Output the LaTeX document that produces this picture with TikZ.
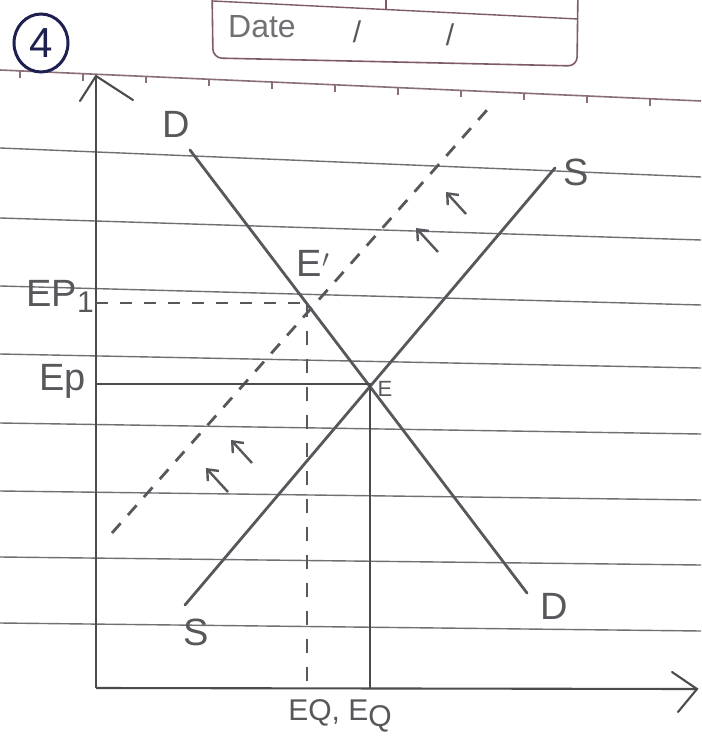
\documentclass[tikz,border=0pt]{standalone}
\usepackage{fontspec}
\setmainfont{Liberation Sans}
\usetikzlibrary{arrows.meta,shapes.geometric}
\definecolor{pencil}{HTML}{58585C}
\definecolor{rulegray}{HTML}{707074}
\definecolor{headerc}{HTML}{8A6E78}
\definecolor{boxc}{HTML}{7E5A6A}
\definecolor{navy}{HTML}{1E2050}
\begin{document}
\begin{tikzpicture}[x=1pt,y=-1pt,
  rule/.style={draw=rulegray, line width=1.4pt},
  pencil/.style={draw=pencil, line width=2.8pt, line cap=round},
  dashpencil/.style={draw=pencil, line width=2.8pt, dash pattern=on 13pt off 11pt},
  thinpencil/.style={draw=pencil!85!black, line width=2.1pt},
  lbl/.style={text=pencil, font=\fontsize{38}{38}\selectfont, inner sep=0pt},
  slbl/.style={text=pencil, font=\fontsize{22}{22}\selectfont, inner sep=0pt},
  shiftarrow/.style={draw=pencil, line width=2.4pt, -{Straight Barb[length=9pt,width=15pt]}}]
\useasboundingbox (0,0) rectangle (701,741);
\fill[white] (0,0) rectangle (701,741);
% ruled lines
\foreach \a/\b in {148/177, 218/240, 286/305, 354/368, 423/434, 491/500, 557/565, 623/631}
  \draw[rule] (0,\a) -- (701,\b);
% header line with ticks
\draw[draw=headerc, line width=1.6pt] (0,70) -- (701,101);
\foreach \t in {20,83,146,209,272,335,398,461,524,587,650}
  \draw[draw=headerc, line width=1.4pt] (\t,{70+\t/701*31}) -- ++(0,7);
% date box
\draw[boxc, line width=1.6pt, rounded corners=9pt] (212,-12) -- (213,58) -- (577,66) -- (578,-12);
\draw[boxc, line width=1.4pt] (213,1) -- (578,19);
\draw[boxc, line width=1.4pt] (386,-5) -- (386,10);
\node[text=pencil!85, font=\fontsize{32}{32}\selectfont, anchor=west, inner sep=0pt] (date) at (228,27) {Date};
\node[text=pencil, font=\fontsize{30}{30}\selectfont] (sl1) at (357,32) {/};
\node[text=pencil, font=\fontsize{30}{30}\selectfont] (sl2) at (450,35) {/};
% circled 4
\node[draw=navy, line width=3pt, ellipse, minimum width=54pt, minimum height=58pt, text=navy,
      font=\fontsize{42}{42}\selectfont, inner sep=0pt] (num) at (41,43) {4};
% points
\coordinate (O) at (96,688);
\coordinate (Ytip) at (96,76);
\coordinate (Xtip) at (697,689);
\coordinate (Dtop) at (190,150);
\coordinate (Dbot) at (527,593);
\coordinate (Stop) at (555,168);
\coordinate (Sbot) at (185,605);
\coordinate (S2top) at (487,110);
\coordinate (S2bot) at (112,533);
\coordinate (E) at (370,384);
\coordinate (E1) at (307,303);
\coordinate (EP) at (96,384);
\coordinate (EP1) at (96,303);
\coordinate (EQ) at (370,688);
\coordinate (EQ1) at (307,688);
% axes
\draw[thinpencil] (O) -- (Ytip);
\draw[thinpencil, line cap=round] (80,101) -- (Ytip) -- (133,100);
\draw[thinpencil] (O) -- (Xtip);
\draw[thinpencil, line cap=round] (672,672) -- (Xtip) -- (678,712);
% curves
\draw[pencil] (Dtop) -- (Dbot);
\draw[pencil] (Sbot) -- (Stop);
\draw[dashpencil] (S2bot) -- (S2top);
% equilibrium guides
\draw[thinpencil] (EP) -- (E) -- (EQ);
\draw[draw=pencil, line width=2.3pt, dash pattern=on 12pt off 12pt] (EP1) -- (E1);
\draw[draw=pencil, line width=2.3pt, dash pattern=on 14pt off 14pt] (E1) -- (EQ1);
% shift arrows
\coordinate (a1t) at (438,252); \coordinate (a1h) at (416,228);
\coordinate (a2t) at (466,214); \coordinate (a2h) at (446,192);
\coordinate (a3t) at (252,463); \coordinate (a3h) at (231,440);
\coordinate (a4t) at (228,492); \coordinate (a4h) at (206,468);
\draw[shiftarrow] (a1t) -- (a1h);
\draw[shiftarrow] (a2t) -- (a2h);
\draw[shiftarrow] (a3t) -- (a3h);
\draw[shiftarrow] (a4t) -- (a4h);
% labels
\node[lbl] (lD1) at (176,124) {D};
\node[lbl] (lS1) at (576,172) {S};
\node[lbl] (lS2) at (196,632) {S};
\node[lbl] (lD2) at (554,606) {D};
\node[lbl] (lE1) at (313,263) {E$'$};
\node[slbl] (lE) at (385,389) {E};
\node[lbl, anchor=east] (lEP1) at (94,296) {EP\raisebox{-6pt}{\fontsize{30}{30}\selectfont 1}};
\node[lbl, anchor=east] (lEP) at (86,381) {Ep};
\node[lbl, font=\fontsize{30}{30}\selectfont] (lEQ) at (340,716) {EQ, E\raisebox{-6pt}{Q}};
\end{tikzpicture}
\end{document}
